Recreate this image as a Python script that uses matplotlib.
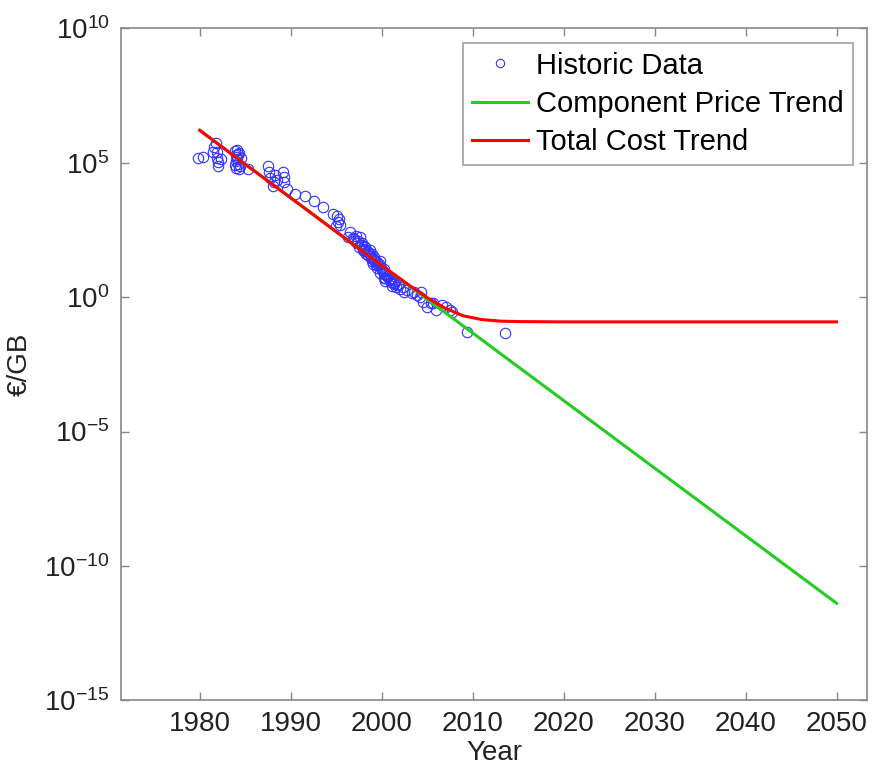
import numpy as np
import matplotlib
matplotlib.use("Agg")
import matplotlib.pyplot as plt
from matplotlib.ticker import LogFormatterMathtext, NullLocator

# ---- data ----
hist_years = [
    1979.75, 1980.4, 1981.4, 1981.6, 1981.8, 1981.9, 1981.9, 1982.0, 1982.0, 1982.3,
    1983.9, 1984.0, 1984.1, 1984.2, 1984.0, 1984.3, 1984.1, 1984.5, 1983.9, 1984.2, 1985.3,
    1984.0, 1984.3, 1984.4, 1984.1,
    1987.5, 1987.6, 1987.7, 1988.0, 1988.3, 1988.5, 1989.1, 1989.2, 1989.2, 1988.2,
    1989.6, 1990.5, 1991.6, 1992.5, 1993.5, 1994.6, 1995.1, 1995.2, 1995.0, 1995.3,
    1995.4, 1996.5, 1996.3, 1997.2, 1997.6, 1997.4,
    1997.8, 1998.0, 1998.2, 1997.9, 1998.4, 1998.7, 1998.5, 1998.9, 1998.8, 1999.1,
    1999.3, 1999.0, 1999.6, 1999.8, 1999.5, 1999.9, 2000.1, 1999.8, 2000.3, 2000.2,
    2000.6, 2000.8, 2000.4, 2001.0, 2001.2, 2001.4, 2001.1, 2001.6, 2001.9,
    1997.0, 1997.3, 1997.5, 1997.7, 1998.1, 1998.3, 1998.6, 1998.8, 1999.0, 1999.2,
    1999.4, 1999.7, 2000.0, 2000.2, 2000.5, 2000.7, 2000.9, 2001.3, 2001.5, 2001.8,
    1996.8, 1997.1, 1998.0, 1998.9, 1999.5, 2000.4, 2001.0, 2002.0,
    2002.3, 2002.5, 2002.8, 2003.3, 2003.6, 2003.9, 2004.2, 2004.5, 2004.3, 2005.0,
    2005.4, 2005.6, 2006.0, 2006.6, 2007.1, 2007.5, 2007.7, 2009.4, 2013.5,
]
hist_log_cost = [
    5.16, 5.23, 5.38, 5.57, 5.75, 5.38, 5.19, 5.01, 4.86, 5.12,
    5.42, 5.27, 5.12, 4.97, 4.82, 4.75, 5.49, 5.19, 4.90, 5.31, 4.75,
    5.05, 5.35, 4.88, 5.22,
    4.86, 4.64, 4.42, 4.12, 4.53, 4.34, 4.64, 4.45, 4.27, 4.27,
    4.01, 3.83, 3.75, 3.56, 3.34, 3.08, 3.00, 2.81, 2.66, 2.92,
    2.70, 2.44, 2.22, 2.29, 2.22, 2.07,
    2.03, 1.92, 1.85, 1.77, 1.70, 1.77, 1.55, 1.62, 1.44, 1.48,
    1.33, 1.25, 1.21, 1.33, 1.10, 1.10, 0.98, 0.91, 0.87, 0.72,
    0.80, 0.69, 0.61, 0.57, 0.69, 0.54, 0.42, 0.39, 0.50,
    2.15, 2.02, 1.88, 1.95, 1.80, 1.62, 1.65, 1.52, 1.40, 1.38,
    1.18, 1.22, 1.02, 1.05, 0.82, 0.78, 0.62, 0.48, 0.60, 0.44,
    2.20, 2.10, 1.70, 1.35, 1.30, 0.70, 0.72, 0.30,
    0.39, 0.20, 0.27, 0.16, 0.20, 0.09, 0.01, -0.17, 0.20, -0.36,
    -0.21, -0.21, -0.47, -0.28, -0.36, -0.47, -0.54, -1.28, -1.32,
]
hist_cost = 10.0 ** np.array(hist_log_cost)

comp_years = [1980, 2050]
comp_cost = [1.6e6, 4.1e-12]

total_years = [1980, 1985, 1990, 1995, 2000, 2003, 2005, 2007, 2009, 2011, 2013, 2015, 2020, 2030, 2040, 2050]
total_cost = [1.6e6, 8.7e4, 4.9e3, 270, 15, 2.8, 0.96, 0.38, 0.20, 0.146, 0.128, 0.123, 0.12, 0.12, 0.12, 0.12]

year_ticks = [1980, 1990, 2000, 2010, 2020, 2030, 2040, 2050]
cost_ticks = [1e-15, 1e-10, 1e-5, 1e0, 1e5, 1e10]

# ---- style ----
plt.rcParams["font.family"] = ["Liberation Sans", "DejaVu Sans"]
plt.rcParams["mathtext.fontset"] = "custom"
plt.rcParams["mathtext.rm"] = "Liberation Sans"
plt.rcParams["mathtext.it"] = "Liberation Sans:italic"
plt.rcParams["mathtext.bf"] = "Liberation Sans:bold"

fig = plt.figure(figsize=(8.72, 7.67), dpi=100)
ax = fig.add_axes([0.1384, 0.0869, 0.8564, 0.8762])

ax.plot(hist_years, hist_cost, "o", mfc="none", mec="#3333ff", ms=7.5, mew=0.8,
        label="Historic Data")
ax.plot(comp_years, comp_cost, color="#22cc22", lw=2.2, label="Component Price Trend")
ax.plot(total_years, total_cost, color="#ff0000", lw=2.2, label="Total Cost Trend")

ax.set_yscale("log")
ax.set_xlim(1971.3, 2053.4)
ax.set_ylim(1e-15, 1e10)
ax.set_xticks(year_ticks)
ax.set_yticks(cost_ticks)
ax.yaxis.set_major_formatter(LogFormatterMathtext())
ax.yaxis.set_minor_locator(NullLocator())

for s in ax.spines.values():
    s.set_color("#888888")
    s.set_linewidth(1.2)
ax.tick_params(direction="in", length=6, width=1, color="#888888",
               labelsize=20, labelcolor="#222222", top=True, right=True, pad=8)

ax.set_xlabel("Year", fontsize=20, color="#222222", labelpad=2)
ax.set_ylabel("€/GB", fontsize=20, color="#222222", labelpad=8)

leg = ax.legend(loc="upper right", fontsize=21, frameon=True, fancybox=False,
                edgecolor="#888888", borderaxespad=0.5, handlelength=1.9,
                handletextpad=0.3, labelspacing=0.35, borderpad=0.3)
leg.get_frame().set_linewidth(1.2)
leg.legend_handles[0].set_markersize(6)

fig.savefig("out.png", dpi=100)
